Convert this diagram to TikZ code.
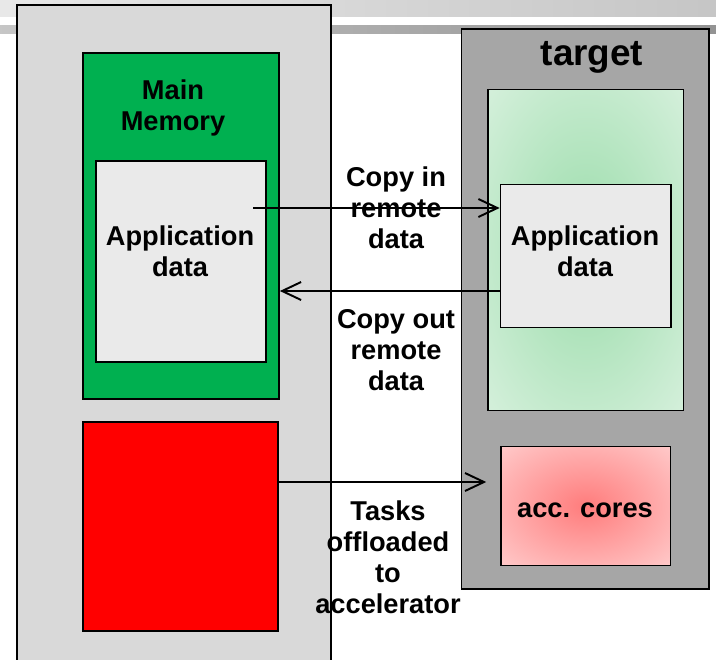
\documentclass[tikz,border=0pt]{standalone}
\usepackage{fontspec}
\setmainfont{Liberation Sans}
\usetikzlibrary{arrows.meta}

\definecolor{hostgray}{HTML}{D9D9D9}
\definecolor{memgreen}{HTML}{00B050}
\definecolor{datagray}{HTML}{EAEAEA}
\definecolor{devgray}{HTML}{A6A6A6}
\definecolor{glowgreenin}{HTML}{9ADCAA}
\definecolor{glowgreenout}{HTML}{E4F5E8}
\definecolor{glowredin}{HTML}{FF7C7C}
\definecolor{glowredout}{HTML}{FFDEDE}

\pgfdeclareradialshading{greenglow}{\pgfpointorigin}{color(0bp)=(glowgreenin); color(45bp)=(glowgreenout); color(50bp)=(glowgreenout)}
\pgfdeclareradialshading{redglow}{\pgfpointorigin}{color(0bp)=(glowredin); color(45bp)=(glowredout); color(50bp)=(glowredout)}

\tikzset{
  box/.style={draw=black, line width=1pt, inner sep=0pt},
  lbl/.style={font=\fontsize{15.5}{17.6}\selectfont\bfseries, align=center, inner sep=0pt},
  flow/.style={line width=1.1pt, -{Straight Barb[length=0.38cm, width=0.36cm]}},
}

\begin{document}
\begin{tikzpicture}[x=0.02cm, y=-0.02cm]
    \clip (0,0) rectangle (716,659);

    % Title bars
    \shade[left color=gray!18, right color=gray!45] (0,0) rectangle (716,16.7);
    \shade[left color=gray!45, right color=gray!85] (0,25) rectangle (716,33);

    % Host
    \node[box, fill=hostgray, minimum width=6.28cm, minimum height=13.6cm] (host) at (174,345) {};
    \node[box, fill=memgreen, minimum width=3.92cm, minimum height=6.92cm] (mainmem) at (181,226) {};
    \node[lbl] (mainmemtxt) at (173,107.5) {Main\\Memory};
    \node[box, fill=datagray, minimum width=3.4cm, minimum height=4.02cm] (appL) at (181,261.5) {};
    \node[lbl] (appLtxt) at (180,251.5) {Application\\data};
    \node[box, fill=red, minimum width=3.9cm, minimum height=4.18cm] (tasks) at (180.5,526.5) {};

    % Target
    \node[box, fill=devgray, minimum width=4.95cm, minimum height=11.2cm] (target) at (585.25,309) {};
    \node[lbl, font=\fontsize{21}{24}\selectfont\bfseries] (targettxt) at (592,57) {target};
    \node[box, shading=greenglow, minimum width=3.91cm, minimum height=6.42cm] (devmem) at (585.75,250) {};
    \node[box, fill=datagray, minimum width=3.41cm, minimum height=2.86cm] (appR) at (585.75,256) {};
    \node[lbl] (appRtxt) at (585,251.5) {Application\\data};
    \node[box, shading=redglow, minimum width=3.4cm, minimum height=2.38cm] (acc) at (585.6,506) {};
    \node[lbl] (acctxt) at (585,510) {acc. cores};

    % Transfers
    \node[lbl] (copyin) at (396,207.5) {Copy in\\remote\\data};
    \node[lbl] (copyout) at (396,350) {Copy out\\remote\\data};
    \node[lbl] (offload) at (388,557) {Tasks\\offloaded\\to\\accelerator};

    \coordinate (cpin) at (253,208);
    \draw[flow] (cpin) -- (cpin -| appR.west);
    \coordinate (cpout) at (500.5,291);
    \draw[flow] (cpout) -- (cpout -| mainmem.east);
    \coordinate (offl) at (278,482);
    \draw[flow, shorten >=0.27cm] (offl) -- (offl -| acc.west);
\end{tikzpicture}
\end{document}
